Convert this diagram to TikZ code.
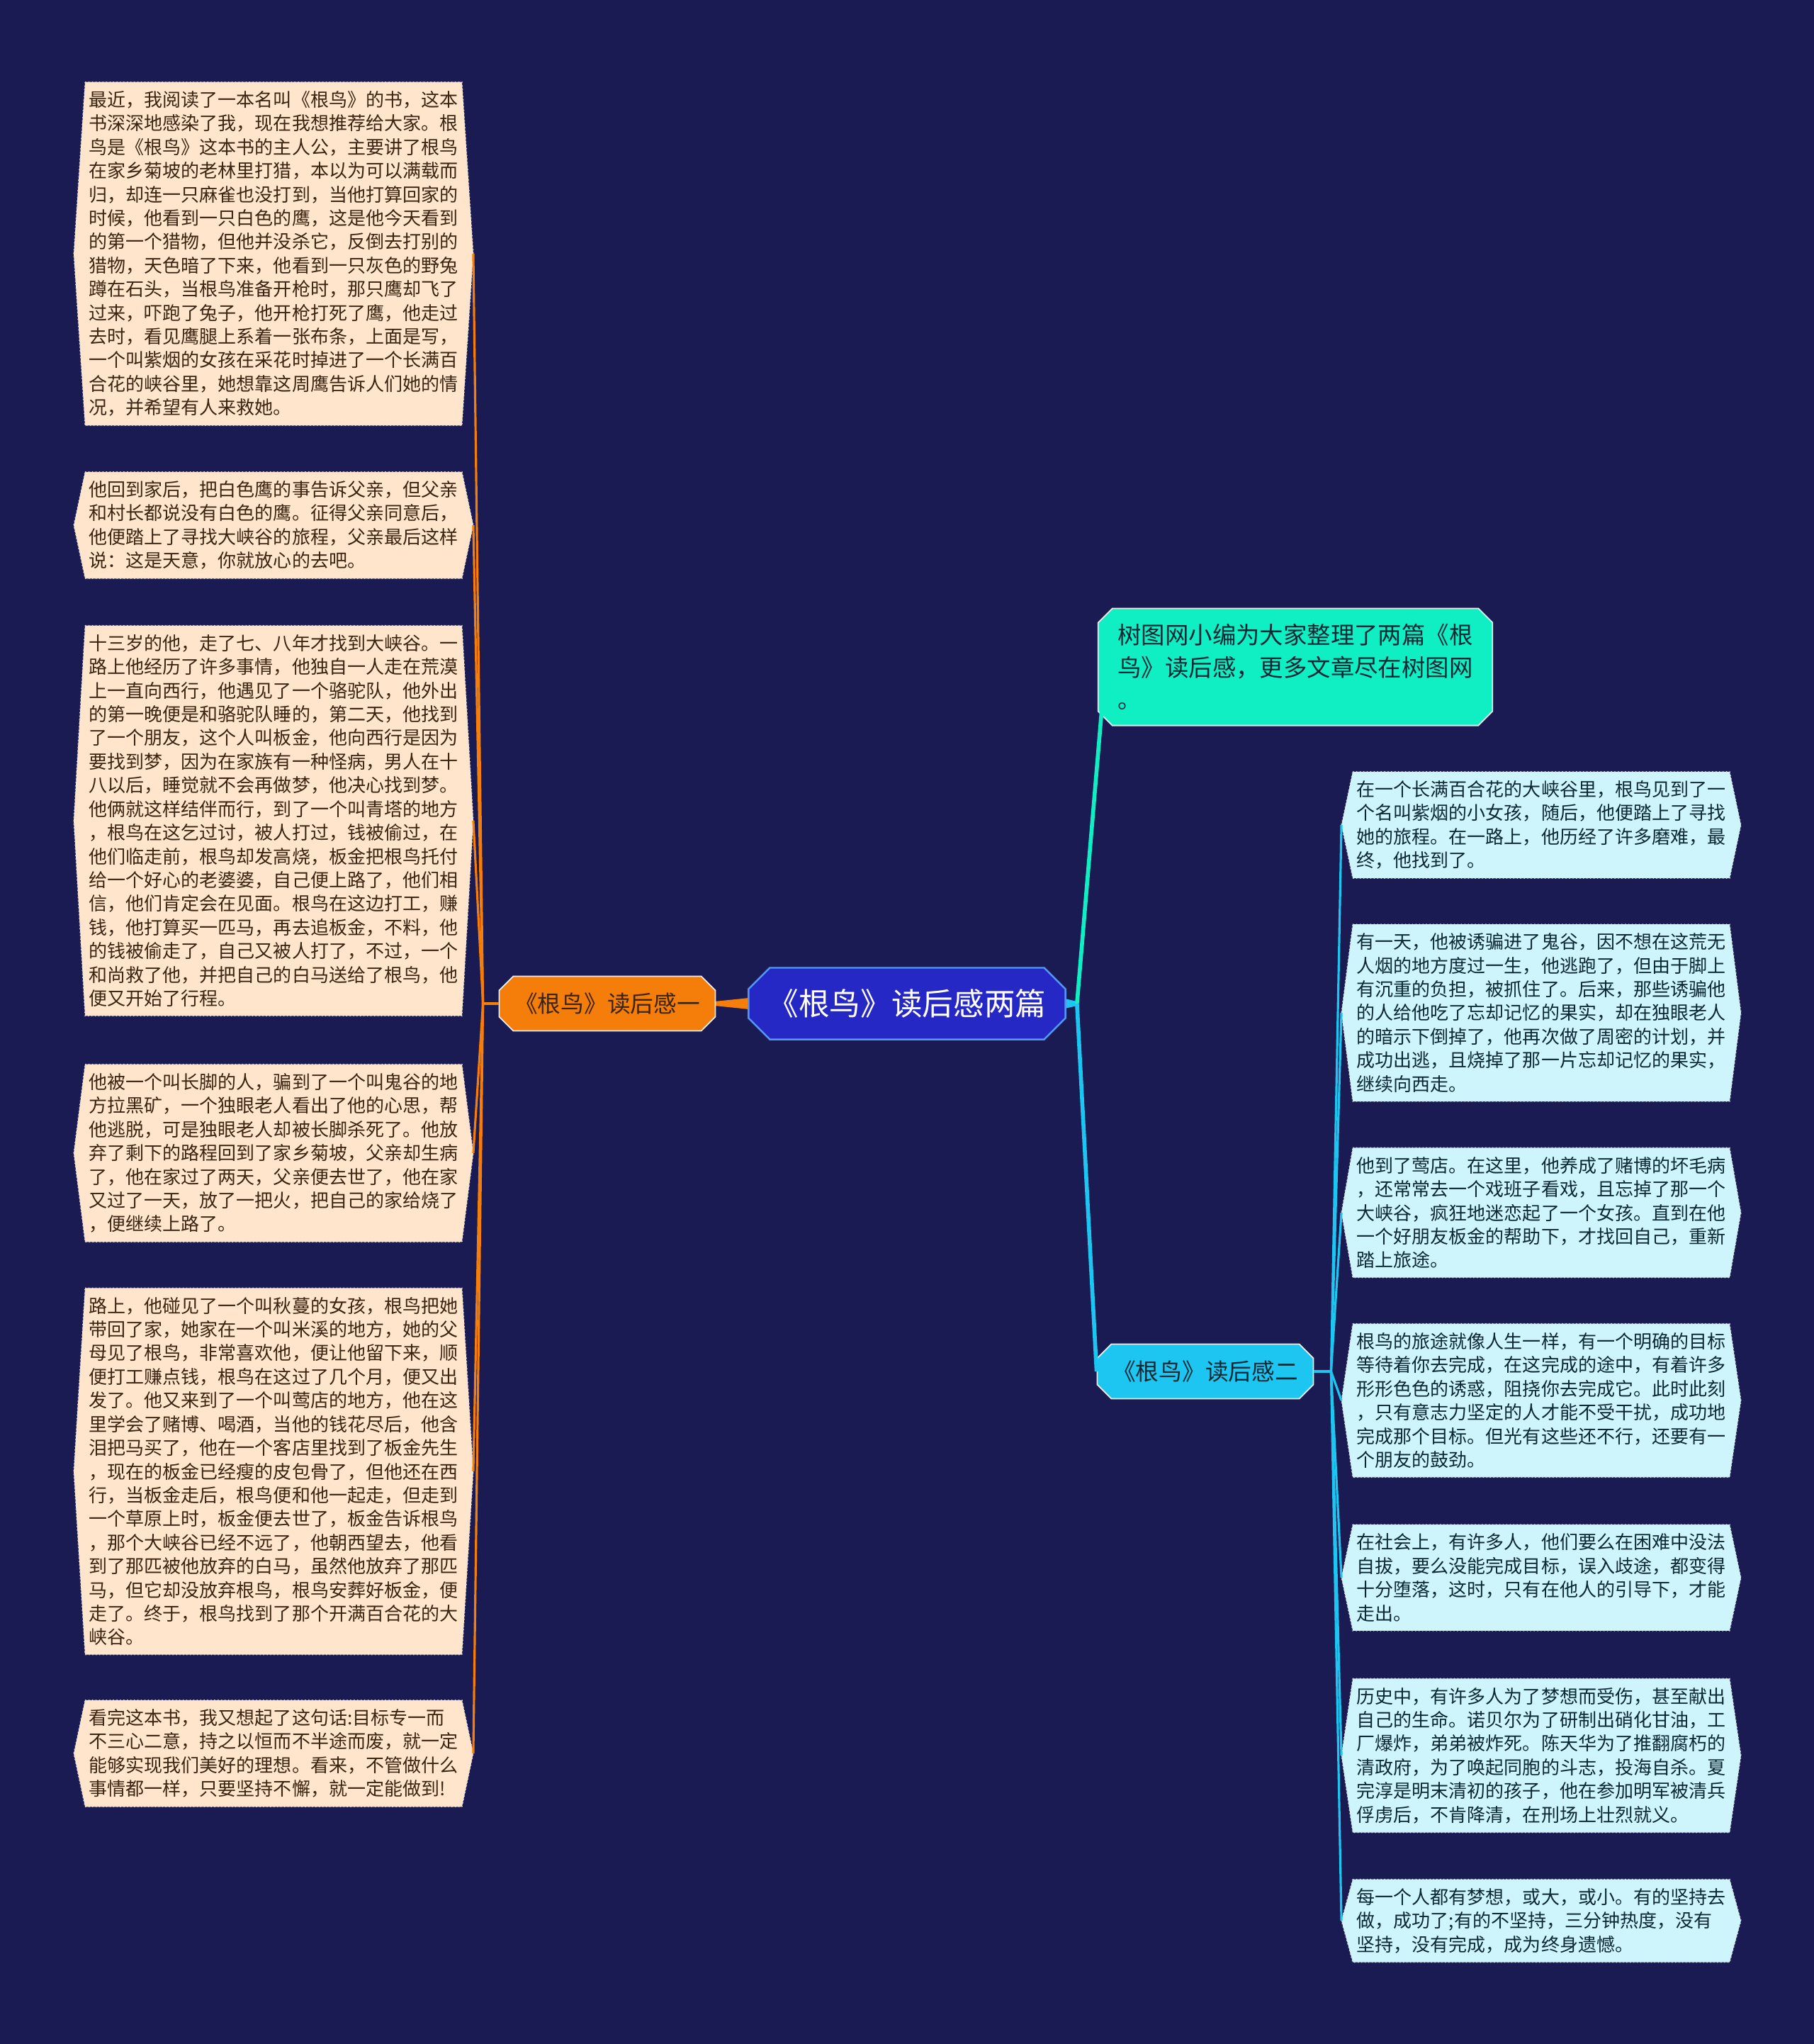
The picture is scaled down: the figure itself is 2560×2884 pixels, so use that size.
\documentclass[tikz,border=0pt]{standalone}
\usepackage{fontspec}
\setmainfont{Noto Sans CJK SC}
\usepackage{tikz}
\usetikzlibrary{calc,backgrounds,shapes.misc}
\definecolor{NightBlue}{RGB}{27,27,84}
\definecolor{RootBlue}{RGB}{38,40,198}
\definecolor{RootEdge}{RGB}{84,150,245}
\definecolor{BookOrange}{RGB}{245,125,10}
\definecolor{NoteGreen}{RGB}{16,238,196}
\definecolor{SkyCyan}{RGB}{28,198,240}
\definecolor{LeafPeach}{RGB}{255,229,204}
\definecolor{LeafIce}{RGB}{206,245,252}
\definecolor{InkBrown}{RGB}{58,36,18}
\definecolor{InkTeal}{RGB}{12,40,52}

\begin{document}
\begin{tikzpicture}[x=0.01cm, y=-0.01cm,
 cut/.style={chamfered rectangle, chamfered rectangle xsep=#1, chamfered rectangle ysep=#1},
 rootbox/.style={cut=0.15cm, draw=RootEdge, line width=0.7pt, fill=RootBlue, text=white, minimum width=4.47cm, minimum height=1.01cm, font=\fontsize{12.4pt}{15pt}\selectfont},
 branchbox/.style={cut=0.1cm, draw=white!85!gray, line width=0.5pt, minimum width=3.02cm, minimum height=0.77cm, font=\fontsize{9.3pt}{11pt}\selectfont},
 notebox/.style={cut=0.1cm, draw=white!85!gray, line width=0.5pt, fill=NoteGreen, text=InkTeal, align=left, minimum width=5.56cm, minimum height=1.65cm, font=\fontsize{9.5pt}{13pt}\selectfont},
 leaf/.style={align=left, inner xsep=0.05cm, inner ysep=0.12cm, font=\fontsize{7.4pt}{9.5pt}\selectfont},
 lleaf/.style={leaf, text=InkBrown},
 rleaf/.style={leaf, text=InkTeal},
 hexfill/.style={fill=#1, draw=white!70!gray, densely dotted, line width=0.4pt},
 mainlink/.style={line width=1.6pt},
 leaflink/.style={line width=0.9pt}
]
\useasboundingbox (0,0) rectangle (2560,2884);

% centre and first level
\node[rootbox] (root) at (1280,1416) {《根鸟》读后感两篇};
\node[branchbox, fill=BookOrange, text=InkBrown] (first) at (857,1416) {《根鸟》读后感一};
\node[branchbox, fill=SkyCyan, text=InkTeal] (second) at (1701,1935) {《根鸟》读后感二};
\node[notebox] (note) at (1828,941) {树图网小编为大家整理了两篇《根\\鸟》读后感，更多文章尽在树图网\\。};

% left leaves
\node[lleaf] (l1) at (386,358) {最近，我阅读了一本名叫《根鸟》的书，这本\\书深深地感染了我，现在我想推荐给大家。根\\鸟是《根鸟》这本书的主人公，主要讲了根鸟\\在家乡菊坡的老林里打猎，本以为可以满载而\\归，却连一只麻雀也没打到，当他打算回家的\\时候，他看到一只白色的鹰，这是他今天看到\\的第一个猎物，但他并没杀它，反倒去打别的\\猎物，天色暗了下来，他看到一只灰色的野兔\\蹲在石头，当根鸟准备开枪时，那只鹰却飞了\\过来，吓跑了兔子，他开枪打死了鹰，他走过\\去时，看见鹰腿上系着一张布条，上面是写，\\一个叫紫烟的女孩在采花时掉进了一个长满百\\合花的峡谷里，她想靠这周鹰告诉人们她的情\\况，并希望有人来救她。};
\node[lleaf] (l2) at (386,741) {他回到家后，把白色鹰的事告诉父亲，但父亲\\和村长都说没有白色的鹰。征得父亲同意后，\\他便踏上了寻找大峡谷的旅程，父亲最后这样\\说：这是天意，你就放心的去吧。};
\node[lleaf] (l3) at (386,1158) {十三岁的他，走了七、八年才找到大峡谷。一\\路上他经历了许多事情，他独自一人走在荒漠\\上一直向西行，他遇见了一个骆驼队，他外出\\的第一晚便是和骆驼队睡的，第二天，他找到\\了一个朋友，这个人叫板金，他向西行是因为\\要找到梦，因为在家族有一种怪病，男人在十\\八以后，睡觉就不会再做梦，他决心找到梦。\\他俩就这样结伴而行，到了一个叫青塔的地方\\，根鸟在这乞过讨，被人打过，钱被偷过，在\\他们临走前，根鸟却发高烧，板金把根鸟托付\\给一个好心的老婆婆，自己便上路了，他们相\\信，他们肯定会在见面。根鸟在这边打工，赚\\钱，他打算买一匹马，再去追板金，不料，他\\的钱被偷走了，自己又被人打了，不过，一个\\和尚救了他，并把自己的白马送给了根鸟，他\\便又开始了行程。};
\node[lleaf] (l4) at (386,1627) {他被一个叫长脚的人，骗到了一个叫鬼谷的地\\方拉黑矿，一个独眼老人看出了他的心思，帮\\他逃脱，可是独眼老人却被长脚杀死了。他放\\弃了剩下的路程回到了家乡菊坡，父亲却生病\\了，他在家过了两天，父亲便去世了，他在家\\又过了一天，放了一把火，把自己的家给烧了\\，便继续上路了。};
\node[lleaf] (l5) at (386,2076) {路上，他碰见了一个叫秋蔓的女孩，根鸟把她\\带回了家，她家在一个叫米溪的地方，她的父\\母见了根鸟，非常喜欢他，便让他留下来，顺\\便打工赚点钱，根鸟在这过了几个月，便又出\\发了。他又来到了一个叫莺店的地方，他在这\\里学会了赌博、喝酒，当他的钱花尽后，他含\\泪把马买了，他在一个客店里找到了板金先生\\，现在的板金已经瘦的皮包骨了，但他还在西\\行，当板金走后，根鸟便和他一起走，但走到\\一个草原上时，板金便去世了，板金告诉根鸟\\，那个大峡谷已经不远了，他朝西望去，他看\\到了那匹被他放弃的白马，虽然他放弃了那匹\\马，但它却没放弃根鸟，根鸟安葬好板金，便\\走了。终于，根鸟找到了那个开满百合花的大\\峡谷。};
\node[lleaf] (l6) at (386,2474) {看完这本书，我又想起了这句话:目标专一而\\不三心二意，持之以恒而不半途而废，就一定\\能够实现我们美好的理想。看来，不管做什么\\事情都一样，只要坚持不懈，就一定能做到!};

% right leaves
\node[rleaf] (r1) at (2175,1164) {在一个长满百合花的大峡谷里，根鸟见到了一\\个名叫紫烟的小女孩，随后，他便踏上了寻找\\她的旅程。在一路上，他历经了许多磨难，最\\终，他找到了。};
\node[rleaf] (r2) at (2175,1429) {有一天，他被诱骗进了鬼谷，因不想在这荒无\\人烟的地方度过一生，他逃跑了，但由于脚上\\有沉重的负担，被抓住了。后来，那些诱骗他\\的人给他吃了忘却记忆的果实，却在独眼老人\\的暗示下倒掉了，他再次做了周密的计划，并\\成功出逃，且烧掉了那一片忘却记忆的果实，\\继续向西走。};
\node[rleaf] (r3) at (2175,1711) {他到了莺店。在这里，他养成了赌博的坏毛病\\，还常常去一个戏班子看戏，且忘掉了那一个\\大峡谷，疯狂地迷恋起了一个女孩。直到在他\\一个好朋友板金的帮助下，才找回自己，重新\\踏上旅途。};
\node[rleaf] (r4) at (2175,1976) {根鸟的旅途就像人生一样，有一个明确的目标\\等待着你去完成，在这完成的途中，有着许多\\形形色色的诱惑，阻挠你去完成它。此时此刻\\，只有意志力坚定的人才能不受干扰，成功地\\完成那个目标。但光有这些还不行，还要有一\\个朋友的鼓劲。};
\node[rleaf] (r5) at (2175,2226) {在社会上，有许多人，他们要么在困难中没法\\自拔，要么没能完成目标，误入歧途，都变得\\十分堕落，这时，只有在他人的引导下，才能\\走出。};
\node[rleaf] (r6) at (2175,2477) {历史中，有许多人为了梦想而受伤，甚至献出\\自己的生命。诺贝尔为了研制出硝化甘油，工\\厂爆炸，弟弟被炸死。陈天华为了推翻腐朽的\\清政府，为了唤起同胞的斗志，投海自杀。夏\\完淳是明末清初的孩子，他在参加明军被清兵\\俘虏后，不肯降清，在刑场上壮烈就义。};
\node[rleaf] (r7) at (2175,2710) {每一个人都有梦想，或大，或小。有的坚持去\\做，成功了;有的不坚持，三分钟热度，没有\\坚持，没有完成，成为终身遗憾。};

% background and leaf outlines
\begin{scope}[on background layer]
\fill[NightBlue] (0,0) rectangle (2560,2884);
\foreach \nm/\col in {l1/LeafPeach,l2/LeafPeach,l3/LeafPeach,l4/LeafPeach,l5/LeafPeach,l6/LeafPeach,r1/LeafIce,r2/LeafIce,r3/LeafIce,r4/LeafIce,r5/LeafIce,r6/LeafIce,r7/LeafIce}
 \path[hexfill=\col] (\nm.north west) -- (\nm.north east) -- ($(\nm.east)+(16,0)$) -- (\nm.south east) -- (\nm.south west) -- ($(\nm.west)+(-16,0)$) -- cycle;
% tapered links out of the centre
\fill[BookOrange] ($(root.west)+(2,-8)$) -- ($(root.west)+(2,8)$) -- ($(first.east)+(-2,3)$) -- ($(first.east)+(-2,-3)$) -- cycle;
\fill[SkyCyan] ($(root.east)+(-2,-7)$) -- ($(root.east)+(-2,7)$) -- ($(root.east)+(15,3)$) -- ($(root.east)+(15,-3)$) -- cycle;
\end{scope}

% connectors
\coordinate (rj) at ($(root.east)+(15,0)$);
\coordinate (lj) at ($(first.west)+(-22,0)$);
\coordinate (sj) at ($(second.east)+(24,0)$);
\draw[mainlink, NoteGreen] (rj) -- ($(note.south west)+(0,-65)$);
\draw[mainlink, SkyCyan] (rj) -- (second.west);
\draw[leaflink, BookOrange] (first.west) -- (lj);
\foreach \nm in {l1,l2,l3,l4,l5,l6}
 \draw[leaflink, BookOrange] (lj) -- ($(\nm.east)+(16,0)$);
\draw[leaflink, SkyCyan] (second.east) -- (sj);
\foreach \nm in {r1,r2,r3,r4,r5,r6,r7}
 \draw[leaflink, SkyCyan] (sj) -- ($(\nm.west)+(-16,0)$);
\end{tikzpicture}
\end{document}
